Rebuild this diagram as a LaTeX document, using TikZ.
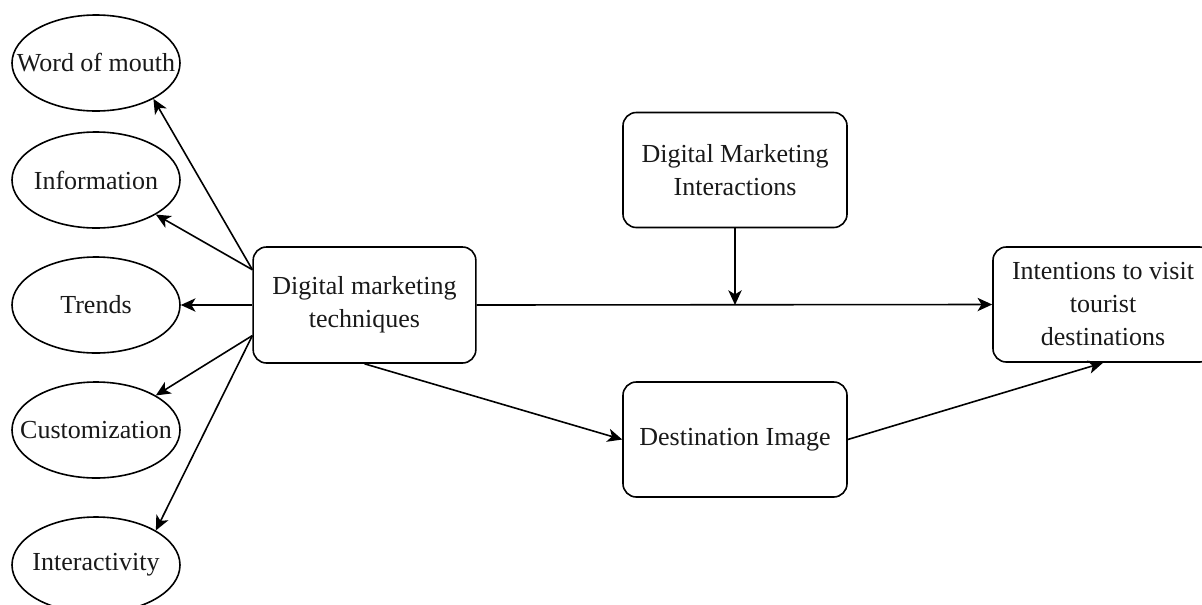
\documentclass[tikz,border=0pt]{standalone}
\usepackage{fontspec}
\setmainfont{Liberation Serif}
\usetikzlibrary{shapes.geometric,arrows.meta,calc}
\begin{document}
\begin{tikzpicture}[x=0.75pt,y=-0.75pt,
  every node/.style={font=\fontsize{19.5pt}{24.75pt}\selectfont, text=black!90},
  oval/.style={ellipse, draw, line width=1.2pt, inner sep=0pt, minimum width=126pt, minimum height=72pt},
  box/.style={rectangle, draw, line width=1.2pt, rounded corners=10pt, align=center, minimum width=168pt, minimum height=86.25pt, inner sep=0pt},
  conn/.style={line width=1.2pt, -{Stealth[length=11pt,width=10pt,inset=3pt]}}
]
\useasboundingbox (0,0) rectangle (1202,604);
\fill[white] (0,0) rectangle (1202,604);

\node[oval] (wom) at (96,63) {\makebox[0pt]{Word of mouth}};
\node[oval] (info) at (96,180) {\makebox[0pt]{Information}};
\node[oval] (trends) at (96,305) {\makebox[0pt]{Trends}};
\node[oval] (cust) at (96,430) {\makebox[0pt]{Customization}};
\node[oval] (inter) at (96,565) {\makebox[0pt]{Interactivity}};

\node[box, minimum width=167pt, minimum height=87pt] (dmt) at (364.5,305) {Digital marketing\\techniques};
\node[box] (dmi) at (735,170) {Digital Marketing\\Interactions};
\node[box] (dest) at (735,439.5) {Destination Image};
\node[box, minimum width=165pt] (itv) at (1103,304.5) {Intentions to visit\\tourist\\destinations};

\coordinate (s1) at ($(dmt.north west)!0.2!(dmt.south west)$);
\coordinate (s2) at ($(dmt.north west)!0.76!(dmt.south west)$);
\coordinate (j) at (dmi.south |- dmt.east);

\draw[conn] (s1) -- (wom.-32);
\draw[conn] (s1) -- (info.-30);
\draw[conn] (dmt.west) -- (trends.east);
\draw[conn] (s2) -- (cust.30);
\draw[conn] (s2) -- (inter.30);

\draw[conn] (dmt.east) -- (itv.west);
\draw[conn] (dmi.south) -- (j);
\draw[conn] (dmt.south) -- (dest.west);
\draw[conn] (dest.east) -- (itv.south);
\end{tikzpicture}
\end{document}
